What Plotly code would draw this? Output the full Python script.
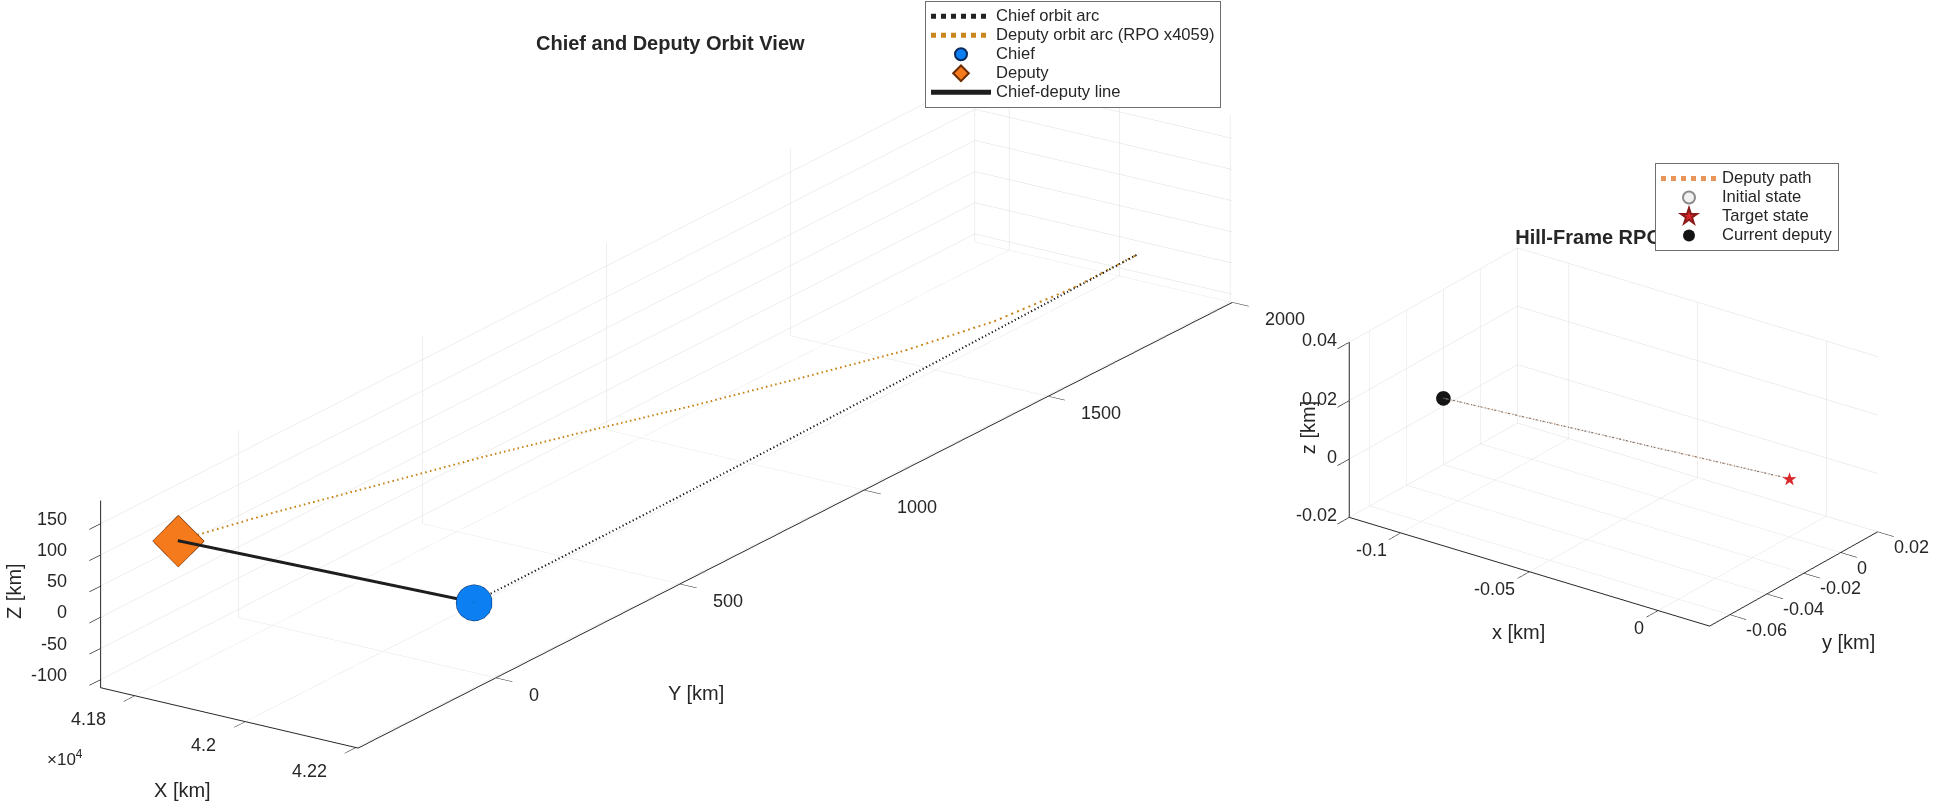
import plotly.graph_objects as go

# ---- Chief orbit arc, inertial frame [km] ----
chief_arc_x = [42164.0, 42163.8, 42163.1, 42161.9, 42160.3, 42158.3,
               42155.7, 42152.7, 42149.3, 42145.4, 42141.0]
chief_arc_y = [0, 184, 368, 552, 736, 920, 1104, 1288, 1472, 1656, 1840]
chief_arc_z = [0, 0, 0, 0, 0, 0, 0, 0, 0, 0, 0]

# ---- Deputy relative path in the chief Hill frame [km] ----
rel_x = [-0.1000, -0.0900, -0.0780, -0.0660, -0.0525, -0.0385,
         -0.0255, -0.0130, -0.0045, -0.0005, 0.0]
rel_y = [-0.0480, -0.0432, -0.0374, -0.0317, -0.0252, -0.0185,
         -0.0122, -0.0062, -0.0022, -0.0002, 0.0]
rel_z = [0.0180, 0.0162, 0.0140, 0.0119, 0.0095, 0.0069,
         0.0046, 0.0023, 0.0008, 0.0001, 0.0]
RPO_SCALE = 4059

target_state = [0.0, 0.0, 0.0]

# ---- Axis limits and ticks ----
orbit_x_range = [41738, 42204]
orbit_y_range = [-374, 2000]
orbit_z_range = [-113, 187]
orbit_x_ticks = [41800, 42000, 42200]
orbit_x_labels = ["4.18", "4.2", "4.22"]
orbit_y_ticks = [0, 500, 1000, 1500, 2000]
orbit_y_labels = ["0", "500", "1000", "1500", "2000"]
orbit_z_ticks = [-100, -50, 0, 50, 100, 150]
orbit_z_labels = ["-100", "-50", "0", "50", "100", "150"]

hill_x_range = [-0.12, 0.02]
hill_y_range = [-0.071, 0.02]
hill_z_range = [-0.02, 0.04]
hill_x_ticks = [-0.1, -0.05, 0]
hill_x_labels = ["-0.1", "-0.05", "0"]
hill_y_ticks = [-0.06, -0.04, -0.02, 0, 0.02]
hill_y_labels = ["-0.06", "-0.04", "-0.02", "0", "0.02"]
hill_z_ticks = [-0.02, 0, 0.02, 0.04]
hill_z_labels = ["-0.02", "0", "0.02", "0.04"]

# Deputy orbit arc: chief arc plus the magnified relative offset
dep_arc_x = [c + RPO_SCALE * r for c, r in zip(chief_arc_x, rel_x)]
dep_arc_y = [c + RPO_SCALE * r for c, r in zip(chief_arc_y, rel_y)]
dep_arc_z = [c + RPO_SCALE * r for c, r in zip(chief_arc_z, rel_z)]

TXT = "#262626"
FONT = "Liberation Sans, Arial, sans-serif"


def lg(name):
    return '<span style="font-size:16.6px">' + name + "</span>"


fig = go.Figure()

# ---------------- Left: orbit view ----------------
fig.add_trace(go.Scatter3d(
    x=chief_arc_x, y=chief_arc_y, z=chief_arc_z, mode="lines",
    line=dict(color="#222222", width=4, dash="dot"),
    name=lg("Chief orbit arc"), scene="scene", legend="legend", legendrank=1))
fig.add_trace(go.Scatter3d(
    x=dep_arc_x, y=dep_arc_y, z=dep_arc_z, mode="lines",
    line=dict(color="#c8861c", width=4, dash="dot"),
    name=lg("Deputy orbit arc (RPO x4059)"), scene="scene", legend="legend", legendrank=2))
fig.add_trace(go.Scatter3d(
    x=[chief_arc_x[0], dep_arc_x[0]], y=[chief_arc_y[0], dep_arc_y[0]],
    z=[chief_arc_z[0], dep_arc_z[0]], mode="lines",
    line=dict(color="#1e1e1e", width=6),
    name=lg("Chief-deputy line"), scene="scene", legend="legend", legendrank=5))
fig.add_trace(go.Scatter3d(
    x=[chief_arc_x[0]], y=[chief_arc_y[0]], z=[chief_arc_z[0]], mode="markers",
    marker=dict(symbol="circle", size=21, color="#0c7ff2",
                line=dict(color="#0a2a5c", width=3)),
    name=lg("Chief"), scene="scene", legend="legend", legendrank=3))
fig.add_trace(go.Scatter3d(
    x=[dep_arc_x[0]], y=[dep_arc_y[0]], z=[dep_arc_z[0]], mode="markers",
    marker=dict(symbol="diamond", size=17, color="#f57a1c",
                line=dict(color="#6a2a00", width=2)),
    name=lg("Deputy"), scene="scene", legend="legend", legendrank=4))

# ---------------- Right: Hill-frame view ----------------
fig.add_trace(go.Scatter3d(
    x=rel_x, y=rel_y, z=rel_z, mode="lines",
    line=dict(color="#7a7a7a", width=2.5, dash="dashdot"),
    showlegend=False, scene="scene2"))
fig.add_trace(go.Scatter3d(
    x=rel_x, y=rel_y, z=rel_z, mode="lines",
    line=dict(color="#e8955a", width=1.5, dash="dot"),
    name=lg("Deputy path"), scene="scene2", legend="legend2", legendrank=1))
fig.add_trace(go.Scatter3d(
    x=[rel_x[0]], y=[rel_y[0]], z=[rel_z[0]], mode="markers",
    marker=dict(symbol="circle", size=6, color="#f2f2f2",
                line=dict(color="#8c8c8c", width=1)),
    name=lg("Initial state"), scene="scene2", legend="legend2", legendrank=2))
fig.add_trace(go.Scatter3d(
    x=[target_state[0]], y=[target_state[1]], z=[target_state[2]], mode="text",
    text=["★"], textposition="middle center",
    textfont=dict(size=18, color="#d9262a", family="DejaVu Sans"),
    showlegend=False, scene="scene2"))
# legend key for the target star
fig.add_trace(go.Scatter(
    x=[None], y=[None], mode="markers",
    marker=dict(symbol="star", size=11, color="#d9262a",
                line=dict(color="#8b1a1a", width=1)),
    name=lg("Target state"), legend="legend2", legendrank=3,
    xaxis="x", yaxis="y"))
fig.add_trace(go.Scatter3d(
    x=[rel_x[0]], y=[rel_y[0]], z=[rel_z[0]], mode="markers",
    marker=dict(symbol="circle", size=8.5, color="#141414"),
    name=lg("Current deputy"), scene="scene2", legend="legend2", legendrank=4))


def axis(rng, ticks):
    return dict(
        title=dict(text=""),
        range=rng, autorange=False, tickvals=ticks, showticklabels=False,
        showline=True, linecolor=TXT, linewidth=2,
        ticks="outside", ticklen=20, tickcolor=TXT, tickwidth=1.5,
        showgrid=True, gridcolor="#dedede", gridwidth=1,
        zeroline=False, showbackground=False, showspikes=False,
    )


def camera(d, k):
    return dict(eye=dict(x=d[0] * k, y=d[1] * k, z=d[2] * k),
                up=dict(x=0, y=0, z=1), center=dict(x=0, y=0, z=0),
                projection=dict(type="orthographic"))


def label(x, y, z, text, xanchor, xshift, yshift, size=18, angle=0):
    return dict(x=x, y=y, z=z, text=text, showarrow=False,
                xanchor=xanchor, yanchor="middle", xshift=xshift, yshift=yshift,
                textangle=angle, font=dict(size=size, color=TXT, family=FONT))


# tick labels and axis titles, positioned in data coordinates
orbit_ann = []
for v, t in zip(orbit_x_ticks, orbit_x_labels):
    orbit_ann.append(label(v, orbit_y_range[0], orbit_z_range[0], t, "right", -27, -23))
for v, t in zip(orbit_y_ticks, orbit_y_labels):
    orbit_ann.append(label(orbit_x_range[1], v, orbit_z_range[0], t, "left", 31, -17))
for v, t in zip(orbit_z_ticks, orbit_z_labels):
    orbit_ann.append(label(orbit_x_range[0], orbit_y_range[0], v, t, "right", -32, 5))
orbit_ann.append(label(sum(orbit_x_range) / 2, orbit_y_range[0], orbit_z_range[0],
                       "X [km]", "center", -47, -72, size=20))
orbit_ann.append(label(orbit_x_range[1], 0, orbit_z_range[0],
                       "Y [km]", "center", 200, -15, size=20))
orbit_ann.append(label(orbit_x_range[0], orbit_y_range[0], sum(orbit_z_range) / 2,
                       "Z [km]", "center", -86, 3, size=20, angle=-90))

hill_ann = []
for v, t in zip(hill_x_ticks, hill_x_labels):
    hill_ann.append(label(v, hill_y_range[0], hill_z_range[0], t, "right", -12, -17))
for v, t in zip(hill_y_ticks, hill_y_labels):
    hill_ann.append(label(hill_x_range[1], v, hill_z_range[0], t, "left", 14, -15))
for v, t in zip(hill_z_ticks, hill_z_labels):
    hill_ann.append(label(hill_x_range[0], hill_y_range[0], v, t, "right", -10, 2))
hill_ann.append(label(-0.05, hill_y_range[0], hill_z_range[0],
                      "x [km]", "center", -11, -60, size=20))
hill_ann.append(label(hill_x_range[1], -0.02, hill_z_range[0],
                      "y [km]", "center", 45, -69, size=20))
hill_ann.append(label(hill_x_range[0], hill_y_range[0], 0.01,
                      "z [km]", "center", -41, 2, size=20, angle=-90))

legend_style = dict(xanchor="left", yanchor="top", bgcolor="white",
                    bordercolor="#6e6e6e", borderwidth=1, itemsizing="constant",
                    font=dict(size=12.3, color=TXT, family=FONT), tracegroupgap=0)

fig.update_layout(
    width=1947, height=808,
    margin=dict(l=0, r=0, t=0, b=0),
    paper_bgcolor="white", plot_bgcolor="rgba(0,0,0,0)",
    font=dict(family=FONT, color=TXT),
    hovermode=False,
    title=dict(text="<b>Hill-Frame RPO View</b>", x=1614 / 1947, y=1 - 237 / 808,
               xanchor="center", yanchor="middle", xref="paper", yref="paper",
               font=dict(size=20, color=TXT, family=FONT)),
    scene=dict(
        domain=dict(x=[0, 0.6846], y=[0.006, 1.0]),
        aspectmode="manual", aspectratio=dict(x=0.7748, y=3.88, z=0.4966),
        xaxis=axis(orbit_x_range, orbit_x_ticks),
        yaxis=axis(orbit_y_range, orbit_y_ticks),
        zaxis=axis(orbit_z_range, orbit_z_ticks),
        camera=camera((0.5267, -0.7768, 0.3457), 4.0),
        annotations=orbit_ann,
    ),
    scene2=dict(
        domain=dict(x=[0.6846, 0.9728], y=[0.0, 0.918]),
        aspectmode="manual", aspectratio=dict(x=1.2044, y=0.7663, z=0.5180),
        xaxis=axis(hill_x_range, hill_x_ticks),
        yaxis=axis(hill_y_range, hill_y_ticks),
        zaxis=axis(hill_z_range, hill_z_ticks),
        camera=camera((0.5391, -0.7351, 0.4115), 3.0),
        annotations=hill_ann,
    ),
    xaxis=dict(visible=False, domain=[0, 0.001]),
    yaxis=dict(visible=False, domain=[0, 0.001]),
    legend=dict(x=925 / 1947, y=0.999, itemwidth=60, **legend_style),
    legend2=dict(x=1655 / 1947, y=1 - 163 / 808, itemwidth=56, **legend_style),
    annotations=[
        dict(text="<b>Chief and Deputy Orbit View</b>", x=670 / 1947, y=1 - 43 / 808,
             xref="paper", yref="paper", xanchor="center", yanchor="middle",
             showarrow=False, font=dict(size=20, color=TXT, family=FONT)),
        dict(text="×10<sup>4</sup>", x=45 / 1947, y=1 - 758 / 808,
             xref="paper", yref="paper", xanchor="left", yanchor="middle",
             showarrow=False, font=dict(size=17, color=TXT, family=FONT)),
    ],
)

# keep the legend boxes stacked above the axes titles
raise_legends = """
var gd = document.getElementById('{plot_id}');
var info = gd.querySelector('.infolayer');
if (info) {
  info.querySelectorAll('g.legend, g.legend2').forEach(function (n) { info.appendChild(n); });
}
"""

fig.write_html("out.html", config={"displayModeBar": False}, post_script=raise_legends)
